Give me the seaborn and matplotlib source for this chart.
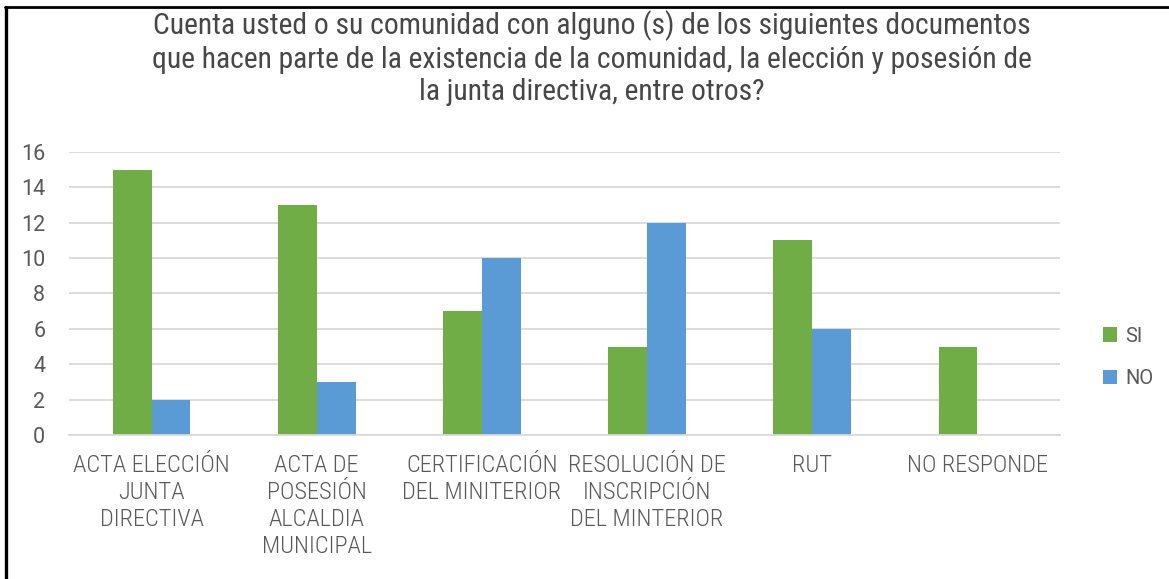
import matplotlib
matplotlib.use("Agg")
import matplotlib.pyplot as plt
from matplotlib import font_manager
import seaborn as sns
import pandas as pd

categories = [
    "ACTA ELECCIÓN\nJUNTA\nDIRECTIVA",
    "ACTA DE\nPOSESIÓN\nALCALDIA\nMUNICIPAL",
    "CERTIFICACIÓN\nDEL MINITERIOR",
    "RESOLUCIÓN DE\nINSCRIPCIÓN\nDEL MINTERIOR",
    "RUT",
    "NO RESPONDE",
]
si_values = [15, 13, 7, 5, 11, 5]
no_values = [2, 3, 10, 12, 6, 0]
series_names = ["SI", "NO"]
y_ticks = [0, 2, 4, 6, 8, 10, 12, 14, 16]
title = ("Cuenta usted o su comunidad con alguno (s) de los siguientes documentos\n"
         "que hacen parte de la existencia de la comunidad, la elección y posesión de\n"
         "la junta directiva, entre otros?")

sns.set_theme(style="white")
installed = {f.name for f in font_manager.fontManager.ttflist}
condensed = [n for n in ["Roboto Condensed", "Liberation Sans Narrow"] if n in installed][:1]
condensed += ["Liberation Sans", "DejaVu Sans"]
regular = ["Roboto", "DejaVu Sans"]
plt.rcParams["font.family"] = regular

df = pd.DataFrame({
    "categoria": categories * 2,
    "serie": [series_names[0]] * len(categories) + [series_names[1]] * len(categories),
    "valor": si_values + no_values,
})

fig = plt.figure(figsize=(11.69, 5.79), dpi=100)
ax = fig.add_axes([0.059, 0.2487, 0.8478, 0.4888])

palette = {"SI": "#70AD47", "NO": "#5B9BD5"}
sns.barplot(data=df, x="categoria", y="valor", hue="serie", order=categories,
            hue_order=series_names, palette=palette, width=0.47, gap=0,
            saturation=1, ax=ax, legend=True, edgecolor="none")

ax.set_ylim(0, 16)
ax.set_xlim(-0.5, len(categories) - 0.5)
ax.set_yticks(y_ticks)
ax.yaxis.grid(True, color="#D9D9D9", linewidth=1.3)
ax.set_axisbelow(True)
for s in ["top", "right", "left"]:
    ax.spines[s].set_visible(False)
ax.spines["bottom"].set_color("#D9D9D9")
ax.spines["bottom"].set_linewidth(1.3)
ax.set_xlabel("")
ax.set_ylabel("")
ax.tick_params(axis="both", length=0, colors="#595959")
ax.tick_params(axis="y", pad=17, labelsize=15.5)
ax.tick_params(axis="x", pad=14)
for lbl in ax.get_yticklabels():
    lbl.set_fontfamily(regular)
for lbl in ax.get_xticklabels():
    lbl.set_fontfamily(condensed)
    lbl.set_fontsize(17.6)
    lbl.set_fontweight("light")
    lbl.set_linespacing(1.22)

leg = ax.legend(loc="center left", bbox_to_anchor=(1.025, 0.275), frameon=False,
                fontsize=14.5, handlelength=0.72, handleheight=0.72,
                handletextpad=0.4, labelspacing=1.15, labelcolor="#595959")

fig.text(0.506, 0.982, title, ha="center", va="top", fontsize=21.3,
         color="#474747", linespacing=1.2, family=condensed)

# Frame lines at the left and top of the figure
fig.add_artist(plt.Line2D([0.0055, 0.0055], [0.0, 0.988], transform=fig.transFigure,
                          color="black", linewidth=2.4))
fig.add_artist(plt.Line2D([0.0045, 1.0], [0.988, 0.988], transform=fig.transFigure,
                          color="black", linewidth=2.0))

fig.savefig("out.png", dpi=100, facecolor="white")
